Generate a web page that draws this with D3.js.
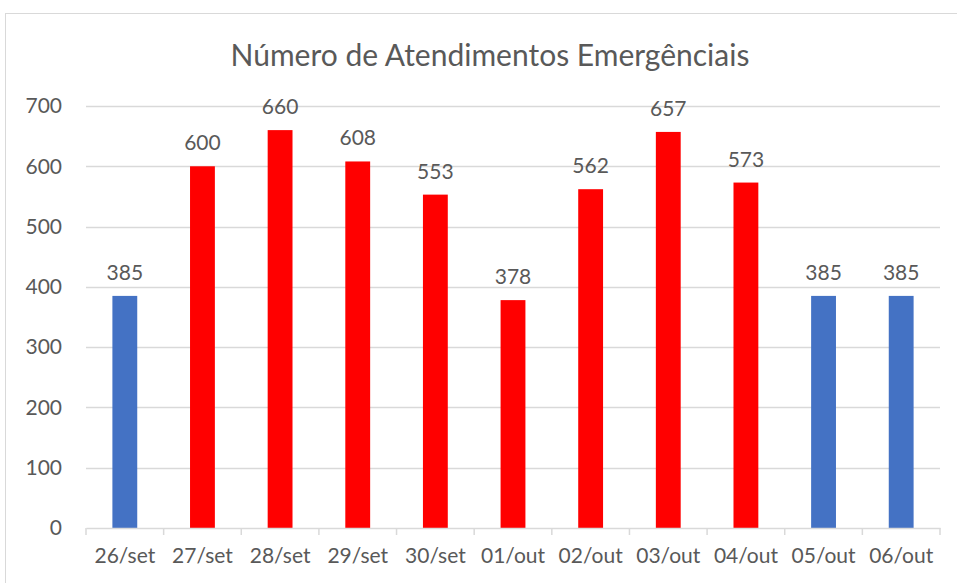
<!DOCTYPE html>
<html>
<head>
<meta charset="utf-8">
<script src="https://cdn.jsdelivr.net/npm/d3@7"></script>
<style>
  body { margin: 0; background: #fff; }
  text { font-family: Lato, "Open Sans", sans-serif; fill: #595959; }
</style>
</head>
<body>
<svg id="chart" width="957" height="583"></svg>
<script>
// data
const days = ["26/set", "27/set", "28/set", "29/set", "30/set", "01/out", "02/out", "03/out", "04/out", "05/out", "06/out"];
const counts = [385, 600, 660, 608, 553, 378, 562, 657, 573, 385, 385];
const colors = ["#4472C4", "#FF0000", "#FF0000", "#FF0000", "#FF0000", "#FF0000", "#FF0000", "#FF0000", "#FF0000", "#4472C4", "#4472C4"];
const yTicks = [0, 100, 200, 300, 400, 500, 600, 700];

const svg = d3.select("#chart");
const margin = { left: 86, right: 17, top: 106, bottom: 55 };
const W = 957, H = 583;

// outer chart frame
svg.append("rect")
  .attr("x", 5.5).attr("y", 13.5)
  .attr("width", W).attr("height", H)
  .attr("fill", "none").attr("stroke", "#d9d9d9");

svg.append("text")
  .attr("x", 490).attr("y", 66)
  .attr("text-anchor", "middle")
  .attr("font-size", 30)
  .text("Número de Atendimentos Emergênciais");

const x = d3.scaleBand()
  .domain(days)
  .range([margin.left, W - margin.right])
  .paddingInner(0.68).paddingOuter(0.34);

const y = d3.scaleLinear()
  .domain([0, 700])
  .range([H - margin.bottom, margin.top]);

// gridlines
svg.append("g")
  .selectAll("line")
  .data(yTicks.slice(1))
  .join("line")
  .attr("x1", margin.left).attr("x2", W - margin.right)
  .attr("y1", d => Math.round(y(d)) + 0.5).attr("y2", d => Math.round(y(d)) + 0.5)
  .attr("stroke", "#d9d9d9").attr("stroke-width", 1.5);

// y labels
svg.append("g")
  .selectAll("text")
  .data(yTicks)
  .join("text")
  .attr("x", 62).attr("y", d => y(d))
  .attr("dy", "0.35em")
  .attr("text-anchor", "end")
  .attr("font-size", 21)
  .text(d => d);

// bars
svg.append("g")
  .selectAll("rect")
  .data(counts)
  .join("rect")
  .attr("x", (d, i) => x(days[i]))
  .attr("y", d => y(d))
  .attr("width", x.bandwidth())
  .attr("height", d => y(0) - y(d))
  .attr("fill", (d, i) => colors[i]);

// value labels
svg.append("g")
  .selectAll("text")
  .data(counts)
  .join("text")
  .attr("x", (d, i) => x(days[i]) + x.bandwidth() / 2)
  .attr("y", d => y(d) - 16)
  .attr("text-anchor", "middle")
  .attr("font-size", 21)
  .text(d => d);

// x axis
const xAxis = svg.append("g")
  .attr("transform", `translate(0,${y(0)})`)
  .call(d3.axisBottom(x).tickSize(0).tickPadding(20));
xAxis.select(".domain").attr("stroke", "#d9d9d9").attr("stroke-width", 1.5);
xAxis.selectAll("text").attr("font-size", 21).attr("fill", "#595959")
  .style("font-family", "Lato, 'Open Sans', sans-serif");

// category separators (ticks between bands)
const edges = d3.range(days.length + 1).map(i => margin.left + i * (W - margin.right - margin.left) / days.length);
svg.append("g")
  .selectAll("line")
  .data(edges)
  .join("line")
  .attr("x1", d => d).attr("x2", d => d)
  .attr("y1", y(0)).attr("y2", y(0) + 7)
  .attr("stroke", "#d9d9d9").attr("stroke-width", 1.5);
</script>
</body>
</html>
